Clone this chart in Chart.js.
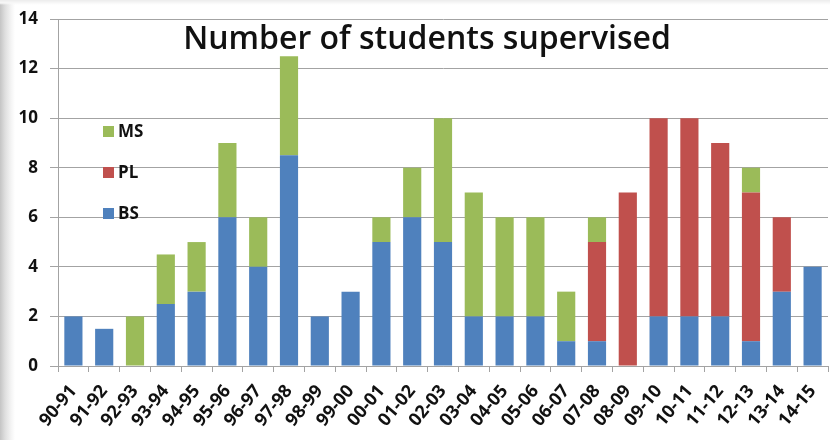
<!DOCTYPE html>
<html><head><meta charset="utf-8">
<script src="https://cdn.jsdelivr.net/npm/chart.js@4.4.1/dist/chart.umd.min.js"></script>
<style>
html,body{margin:0;padding:0;}
body{width:830px;height:440px;overflow:hidden;background:
 linear-gradient(to bottom,#ececec 0px,#f8f8f8 3px,rgba(255,255,255,0) 5px),
 linear-gradient(to right,#c4c4c4 0px,#dedede 5px,#f4f4f4 11px,#fff 15px);}
#wrap{position:relative;width:830px;height:440px;}
</style></head><body><div id="wrap"><canvas id="c" width="830" height="440"></canvas></div>
<script>
const categories = ["90-91","91-92","92-93","93-94","94-95","95-96","96-97","97-98","98-99","99-00","00-01","01-02","02-03","03-04","04-05","05-06","06-07","07-08","08-09","09-10","10-11","11-12","12-13","13-14","14-15"];
const bsValues = [2,1.5,0,2.5,3,6,4,8.5,2,3,5,6,5,2,2,2,1,1,0,2,2,2,1,3,4];
const plValues = [0,0,0,0,0,0,0,0,0,0,0,0,0,0,0,0,0,4,7,8,8,7,6,3,0];
const msValues = [0,0,2,2,2,3,2,4,0,0,1,2,5,5,4,4,2,1,0,0,0,0,1,0,0];
const yTickValues = [0,2,4,6,8,10,12,14];
const seriesNames = ["BS","PL","MS"];
const chartTitle = "Number of students supervised";

const COLORS = {BS:"#4F81BD", PL:"#C0504D", MS:"#9BBB59"};
const TEXT = "#111111";
const GRID = "#a3a3a3";

const overlayPlugin = {
  id: "overlay",
  afterDraw(chart) {
    const ctx = chart.ctx;
    ctx.save();
    ctx.fillStyle = TEXT;
    ctx.font = "600 32px 'Open Sans'";
    ctx.textAlign = "center";
    ctx.textBaseline = "alphabetic";
    ctx.fillText(chartTitle, 427, 49);
    const ds = chart.data.datasets.slice().reverse();
    const ys = [131, 172, 213];
    ctx.font = "bold 17px 'Open Sans'";
    ctx.textAlign = "left";
    ctx.textBaseline = "middle";
    ds.forEach((d, i) => {
      ctx.fillStyle = d.backgroundColor;
      ctx.fillRect(103, ys[i] - 5, 11, 11);
      ctx.fillStyle = TEXT;
      ctx.fillText(d.label, 118, ys[i] + 1);
    });
    ctx.restore();
  }
};

const valueSets = [bsValues, plValues, msValues];
new Chart(document.getElementById("c"), {
  type: "bar",
  data: {
    labels: categories,
    datasets: seriesNames.map((n, i) => ({
      label: n,
      data: valueSets[i],
      backgroundColor: COLORS[n],
      borderWidth: 0,
      barPercentage: 0.59,
      categoryPercentage: 1
    }))
  },
  options: {
    responsive: false,
    devicePixelRatio: 1,
    animation: false,
    layout: { padding: { top: 19, right: 2, left: 0, bottom: 0 } },
    plugins: { legend: { display: false }, title: { display: false }, tooltip: { enabled: false } },
    scales: {
      x: {
        stacked: true,
        offset: true,
        grid: { offset: true, drawOnChartArea: false, drawTicks: true, tickLength: 6, color: GRID },
        border: { color: GRID },
        ticks: { minRotation: 50, maxRotation: 50, autoSkip: false, padding: 9, color: TEXT,
                 font: { family: "'Open Sans'", weight: "bold", size: 18 } },
        afterFit: s => { s.height = 74; s.paddingLeft = 0; s.paddingRight = 0; }
      },
      y: {
        stacked: true,
        min: 0, max: 14,
        afterBuildTicks: s => { s.ticks = yTickValues.map(v => ({ value: v })); },
        grid: { color: GRID, tickLength: 8 },
        border: { color: GRID },
        ticks: { padding: 12, color: TEXT, font: { family: "'Open Sans'", weight: "bold", size: 17 } },
        afterFit: s => { s.width = 58; s.paddingTop = 0; s.paddingBottom = 0; }
      }
    }
  },
  plugins: [overlayPlugin]
});
</script></body></html>
